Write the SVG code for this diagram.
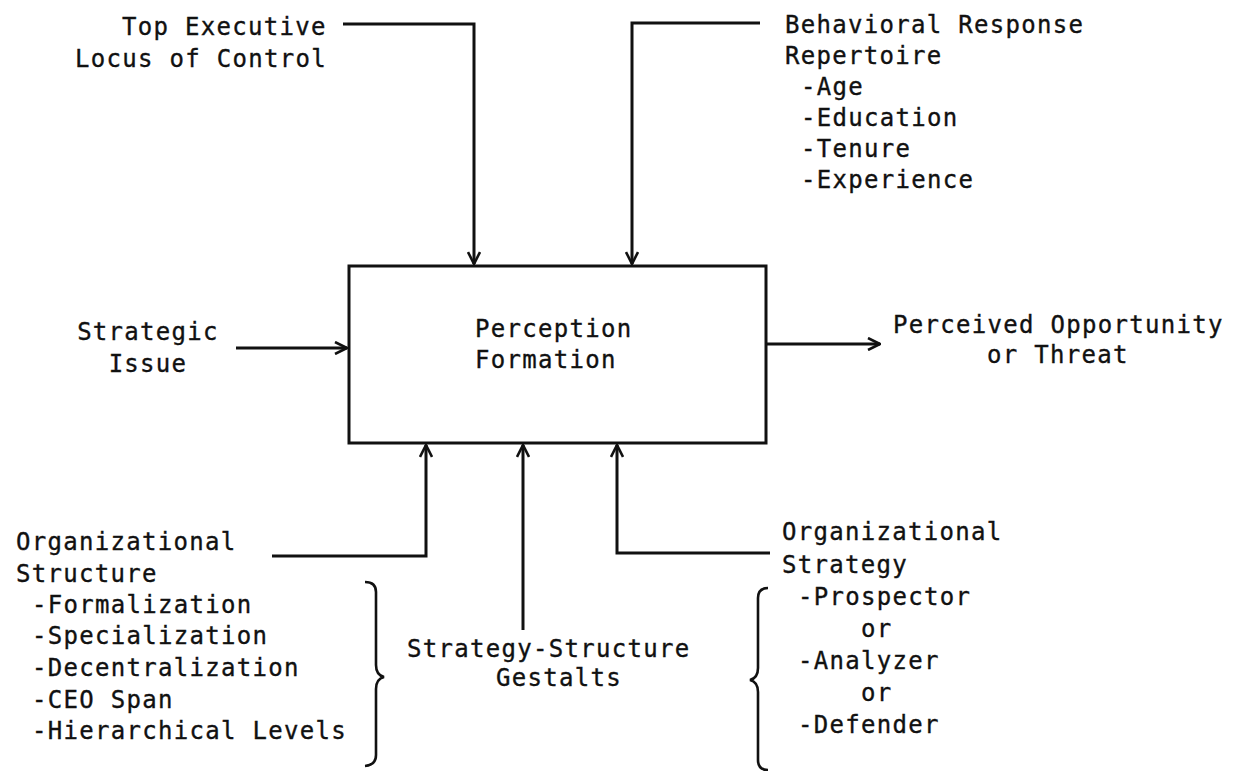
<svg xmlns="http://www.w3.org/2000/svg" width="1233" height="771" viewBox="0 0 1233 771">
<style>
text { font-family: "DejaVu Sans Mono", "Liberation Mono", monospace; font-size: 24px; letter-spacing: 1.3px; fill: #111; stroke: #111; stroke-width: 0.35; }
.ln { fill: none; stroke: #111; stroke-width: 3; }
.br { fill: none; stroke: #111; stroke-width: 2.6; }
</style>
<defs>
<marker id="ah" viewBox="0 0 14 14" refX="13" refY="7" markerWidth="14" markerHeight="14" markerUnits="userSpaceOnUse" orient="auto">
<path d="M1,1 L13,7 L1,13" fill="none" stroke="#111" stroke-width="2.6"/>
</marker>
</defs>
<rect width="1233" height="771" fill="#fff"/>

<g id="perception">
<rect class="ln" x="349" y="266" width="417" height="177"/>
<text x="475" y="337">Perception</text>
<text x="475" y="368">Formation</text>
</g>

<g id="top-executive">
<text x="122" y="35">Top Executive</text>
<text x="75" y="67">Locus of Control</text>
</g>

<g id="behavioral">
<text x="785" y="33">Behavioral Response</text>
<text x="785" y="64">Repertoire</text>
<text x="801" y="95">-Age</text>
<text x="801" y="126">-Education</text>
<text x="801" y="157">-Tenure</text>
<text x="801" y="188">-Experience</text>
</g>

<g id="strategic-issue">
<text x="148" y="340" text-anchor="middle">Strategic</text>
<text x="148" y="372" text-anchor="middle">Issue</text>
</g>

<g id="perceived">
<text x="893" y="333">Perceived Opportunity</text>
<text x="987" y="363">or Threat</text>
</g>

<g id="org-structure">
<text x="16" y="550">Organizational</text>
<text x="16" y="582">Structure</text>
<text x="32" y="613">-Formalization</text>
<text x="32" y="644">-Specialization</text>
<text x="32" y="676">-Decentralization</text>
<text x="32" y="708">-CEO Span</text>
<text x="32" y="739">-Hierarchical Levels</text>
<path class="br" d="M365,582 Q376,582 376,592 L376,665 Q376,675 384,677 Q376,679 376,689 L376,755 Q376,765 365,766"/>
</g>

<g id="gestalts">
<text x="407" y="657">Strategy-Structure</text>
<text x="496" y="686">Gestalts</text>
</g>

<g id="org-strategy">
<text x="782" y="540">Organizational</text>
<text x="782" y="573">Strategy</text>
<text x="798" y="605">-Prospector</text>
<text x="861" y="637">or</text>
<text x="798" y="669">-Analyzer</text>
<text x="861" y="701">or</text>
<text x="798" y="733">-Defender</text>
<path class="br" d="M768,588 Q758,588 758,598 L758,668 Q758,678 750,680 Q758,682 758,692 L758,760 Q758,770 768,770"/>
</g>

<g id="connectors">
<polyline class="ln" points="343,24 474,24 474,264" marker-end="url(#ah)"/>
<polyline class="ln" points="760,23 632,23 632,264" marker-end="url(#ah)"/>
<line class="ln" x1="236" y1="348" x2="347" y2="348" marker-end="url(#ah)"/>
<line class="ln" x1="767" y1="344" x2="880" y2="344" marker-end="url(#ah)"/>
<polyline class="ln" points="272,556 426,556 426,445" marker-end="url(#ah)"/>
<line class="ln" x1="523" y1="630" x2="523" y2="445" marker-end="url(#ah)"/>
<polyline class="ln" points="770,553 617,553 617,445" marker-end="url(#ah)"/>
</g>
</svg>
